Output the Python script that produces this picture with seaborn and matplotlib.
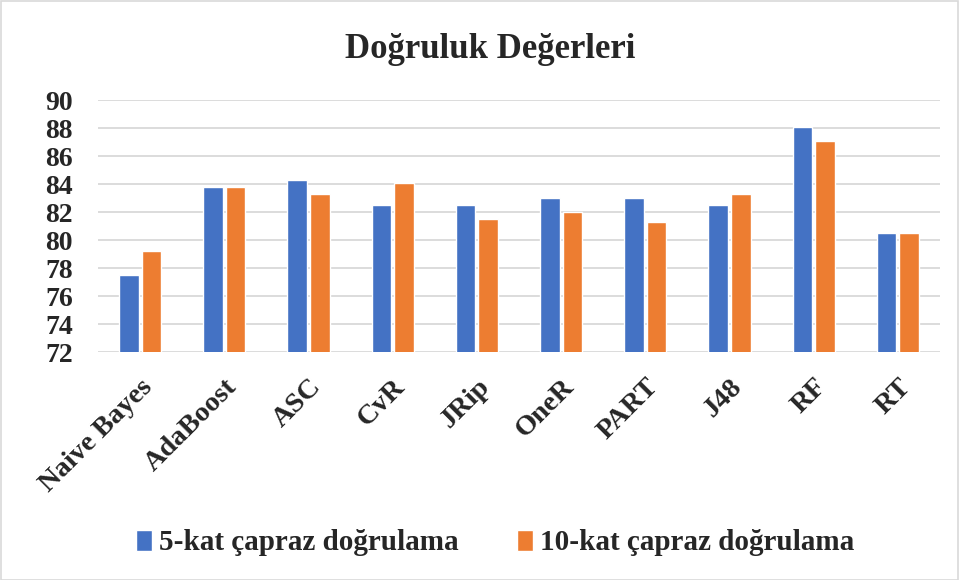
import matplotlib
matplotlib.use("Agg")
import matplotlib.pyplot as plt
import seaborn as sns
import pandas as pd
from matplotlib.patches import Rectangle

categories = ["Naive Bayes", "AdaBoost", "ASC", "CvR", "JRip", "OneR", "PART", "J48", "RF", "RT"]
kat5 = [77.5, 83.8, 84.3, 82.5, 82.5, 83.0, 83.0, 82.5, 88.1, 80.5]
kat10 = [79.2, 83.8, 83.3, 84.1, 81.5, 82.0, 81.3, 83.3, 87.1, 80.5]
series_names = ["5-kat çapraz doğrulama", "10-kat çapraz doğrulama"]
y_ticks = [72, 74, 76, 78, 80, 82, 84, 86, 88, 90]

df = pd.DataFrame({
    "Model": categories * 2,
    "Doğruluk": kat5 + kat10,
    "Yöntem": [series_names[0]] * len(categories) + [series_names[1]] * len(categories),
})

sns.set_theme(style="white")
plt.rcParams["font.family"] = ["Liberation Serif", "DejaVu Serif"]

fig = plt.figure(figsize=(9.59, 5.8), dpi=100)
ax = fig.add_axes([98 / 959, 1 - 352 / 580, 842 / 959, 252 / 580])

sns.barplot(data=df, x="Model", y="Doğruluk", hue="Yöntem",
            palette=["#4472C4", "#ED7D31"], width=0.54, gap=0.14,
            saturation=1, ax=ax, legend=True)

ax.set_ylim(72, 90)
ax.set_xlim(-0.5, len(categories) - 0.5)
ax.set_yticks(y_ticks)
ax.set_yticklabels([str(v) for v in y_ticks], fontsize=20, fontweight="bold")
ax.yaxis.grid(True, color="#d9d9d9", linewidth=1.3)
ax.set_axisbelow(True)
for s in ax.spines.values():
    s.set_visible(False)
ax.tick_params(axis="both", length=0)
ax.tick_params(axis="y", pad=18)
ax.set_xticks(range(len(categories)))
ax.set_xticklabels(categories, rotation=45, ha="right", rotation_mode="anchor",
                   fontsize=20.5, fontweight="bold")
ax.tick_params(axis="x", pad=16)
ax.set_xlabel("")
ax.set_ylabel("")

fig.suptitle("Doğruluk Değerleri", x=490 / 959, y=1 - 50 / 580, va="center",
             fontsize=25, fontweight="bold")

handles, labels = ax.get_legend_handles_labels()
ax.get_legend().remove()
fig.legend(handles, labels, loc="center", bbox_to_anchor=(495 / 959, 1 - 543 / 580),
           ncol=2, frameon=False, prop={"size": 21, "weight": "bold"},
           handlelength=0.55, handleheight=0.7, handletextpad=0.25, columnspacing=2.0)

fig.patches.append(Rectangle((0.5 / 959, 0.5 / 580), 1 - 1.5 / 959, 1 - 1.5 / 580,
                             transform=fig.transFigure, fill=False,
                             edgecolor="#d9d9d9", linewidth=1.2))

fig.savefig("out.png", dpi=100)
